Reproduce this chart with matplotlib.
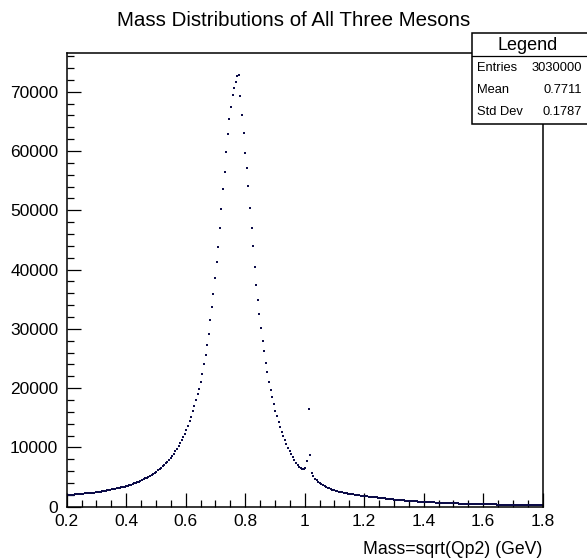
import numpy as np
import matplotlib
matplotlib.use("Agg")
import matplotlib.pyplot as plt
from matplotlib.patches import Rectangle
from matplotlib.ticker import MultipleLocator, FuncFormatter

plt.rcParams['font.family'] = ['Liberation Sans', 'DejaVu Sans']

# ---- data (histogram: 300 bins from 0.2 to 1.8 GeV) ----
x_low, x_high, n_bins = 0.2, 1.8, 300

counts_low = [
    1960, 1983, 2006, 2030, 2054, 2078, 2103, 2128, 2153, 2178,
    2204, 2230, 2256, 2283, 2310, 2337, 2365, 2393, 2420, 2466,
    2513, 2560, 2609, 2658, 2708, 2760, 2812, 2865, 2919, 2975,
    3031, 3088, 3147, 3206, 3267, 3329, 3392, 3456, 3545, 3635,
    3729, 3824, 3922, 4023, 4126, 4231, 4340, 4476, 4617, 4762,
    4911, 5066, 5225, 5389, 5558, 5733, 5913, 6129, 6353, 6585,
    6825, 7074, 7332, 7600, 7877, 8165, 8546, 8944, 9361, 9797,
    10254, 10732, 11232, 11755, 12303, 12877, 13611, 14387, 15207, 16074,
    16990, 17959,
]
counts_peak = [
    18940, 19900, 21090, 22440, 24010, 25530, 27290, 29150, 31510, 33710,
    35850, 38500, 41320, 43860, 47010, 50290, 53600, 56480, 59750, 62900,
    65390, 67470, 69440, 70680, 71700, 72600, 72830, 69270, 66010, 63020,
    59640, 57050, 54060, 50390, 47010, 43910, 40480, 37430, 34830, 32580,
    30160, 27900, 26280, 24250, 22730, 20970, 19680, 18430,
]
counts_mid = [
    17310, 16060, 15220, 14370, 13360, 12680, 11950, 11280, 10600, 9980,
    9470, 8910, 8450, 7900, 7440, 7050, 6750, 6550, 6400, 6350,
    6450, 7700, 16520, 8750, 5750, 5150, 4750, 4450, 4200, 3980,
    3790, 3620, 3470, 3330, 3200, 3080, 2970, 2870, 2780, 2700,
    2620, 2550, 2480, 2420, 2360, 2300, 2250, 2200, 2150, 2105,
    2060, 2020, 1980, 1940, 1905, 1870, 1835, 1800, 1770, 1740,
    1710, 1680, 1650, 1625, 1600, 1575,
]
counts_high = [
    1540, 1505, 1470, 1435, 1400, 1365, 1330, 1295, 1262, 1230,
    1200, 1172, 1145, 1120, 1095, 1071, 1048, 1026, 1004, 983,
    963, 943, 924, 905, 887, 869, 852, 835, 819, 803,
    788, 773, 758, 744, 730, 716, 703, 690, 677, 665,
    653, 641, 630, 619, 608, 597, 587, 577, 567, 557,
    548, 539, 530, 521, 512, 504, 496, 488, 480, 472,
    465, 458, 451, 444, 437, 430, 424, 418, 412, 406,
    400, 394, 388, 382, 376, 370, 364, 358, 352, 346,
    340, 334, 329, 324, 319, 314, 309, 304, 299, 294,
    289, 284, 279, 275, 271, 267, 263, 259, 255, 251,
    247, 243, 240, 237,
]

title = "Mass Distributions of All Three Mesons"
xlabel = "Mass=sqrt(Qp2) (GeV)"
stats_title = "Legend"
stats_names = ["Entries", "Mean", "Std Dev"]
stats_values = ["3030000", "0.7711", "0.1787"]

counts = np.array(counts_low + counts_peak + counts_mid + counts_high, dtype=float)
edges = np.linspace(x_low, x_high, n_bins + 1)
centers = 0.5 * (edges[:-1] + edges[1:])

# ---- figure ----
W, H = 587, 559
fig = plt.figure(figsize=(W / 100, H / 100), dpi=100)
ax = fig.add_axes([66.7 / W, 1 - 506.7 / H, (542.7 - 66.7) / W, (506.7 - 53.3) / H])

ax.plot(centers, counts, linestyle='none', marker='s', ms=2.0, mew=0,
        color='#0c0c48')

ax.set_xlim(x_low, x_high)
ax.set_ylim(0, 1.05 * counts.max())

ax.xaxis.set_major_locator(MultipleLocator(0.2))
ax.xaxis.set_minor_locator(MultipleLocator(0.05))
ax.yaxis.set_major_locator(MultipleLocator(10000))
ax.yaxis.set_minor_locator(MultipleLocator(2000))
ax.xaxis.set_major_formatter(FuncFormatter(lambda v, p: f"{v:g}"))
ax.yaxis.set_major_formatter(FuncFormatter(lambda v, p: f"{v:.0f}"))

ax.tick_params(which='both', direction='in', top=False, right=False,
               width=0.9, colors='black', labelsize=12.5)
ax.tick_params(which='major', length=10)
ax.tick_params(which='minor', length=5)
ax.tick_params(axis='x', pad=5)
ax.tick_params(axis='y', pad=6)
for s in ax.spines.values():
    s.set_linewidth(1.1)

fig.text(293.5 / W, 1 - 21 / H, title, ha='center', va='center', fontsize=14.8)
fig.text(542.7 / W, 1 - 550 / H, xlabel, ha='right', va='center', fontsize=12.7)

# ---- stats box ----
bx0, by0, bx1, by1 = 471.7, 33.3, 592, 124.0
fig.patches.append(Rectangle((bx0 / W, 1 - by1 / H), (bx1 - bx0) / W, (by1 - by0) / H,
                             transform=fig.transFigure, facecolor='white',
                             edgecolor='black', linewidth=1.1, zorder=5))
fig.lines.append(plt.Line2D([bx0 / W, 1.0], [1 - 55.7 / H, 1 - 55.7 / H],
                            transform=fig.transFigure, color='black', lw=0.9, zorder=6))
fig.text(528 / W, 1 - 45 / H, stats_title, ha='center', va='center', fontsize=13, zorder=7)
row_y = [68.3, 90.0, 112.3]
for name, val, yy in zip(stats_names, stats_values, row_y):
    fig.text(476.7 / W, 1 - yy / H, name, ha='left', va='center', fontsize=9.3, zorder=7)
    fig.text(582 / W, 1 - yy / H, val, ha='right', va='center', fontsize=9.3, zorder=7)

fig.savefig("out.png", dpi=100)
